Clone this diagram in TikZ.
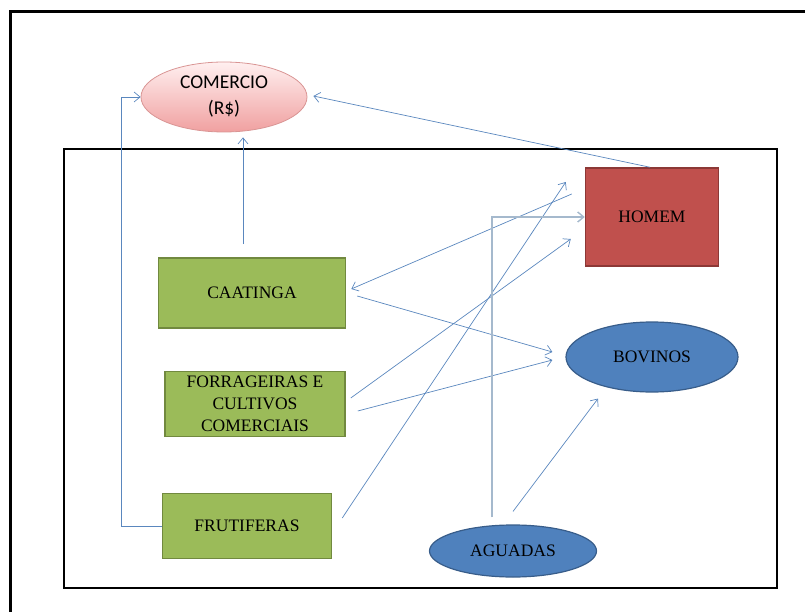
\documentclass[tikz,border=0pt]{standalone}
\usepackage{fontspec}
\setmainfont{Liberation Serif}
\newfontfamily\calibrifont{Carlito}
\usetikzlibrary{arrows.meta,shapes.geometric}
\definecolor{verde}{RGB}{155,187,89}
\definecolor{verdeborda}{RGB}{113,137,63}
\definecolor{vermelho}{RGB}{192,80,77}
\definecolor{vermelhoborda}{RGB}{140,56,54}
\definecolor{azul}{RGB}{79,129,189}
\definecolor{azulborda}{RGB}{56,93,138}
\definecolor{seta}{RGB}{90,135,190}
\definecolor{setaclara}{RGB}{165,185,205}
\begin{document}
\begin{tikzpicture}[x=1pt,y=-1pt,
  caixa/.style={draw=verdeborda,line width=1.5pt,fill=verde,align=center,
    font=\fontsize{17.5}{22}\selectfont,inner sep=0pt},
  elipse/.style={ellipse,draw=azulborda,line width=1.2pt,fill=azul,
    font=\fontsize{17.5}{22}\selectfont,inner sep=0pt},
  fluxo/.style={draw=seta,line width=0.7pt,-{Straight Barb[length=6pt,width=10pt]}}]
  \useasboundingbox (0,0) rectangle (805,612);
  % molduras
  \draw[line width=3pt] (805,12) -- (10,12) -- (10,612);
  \draw[line width=2.5pt] (64,149) rectangle (777,588);
  % nos
  \node[ellipse,draw={rgb,255:red,217;green,149;blue,148},line width=0.8pt,
    top color=red!6,bottom color={rgb,255:red,240;green,160;blue,160},
    minimum width=166pt,minimum height=70pt,inner sep=0pt,align=center,
    font=\calibrifont\fontsize{19.5}{26}\selectfont] (comercio) at (224,97) {COMERCIO\\(R\$)};
  \node[draw=vermelhoborda,line width=1.5pt,fill=vermelho,minimum width=133pt,
    minimum height=98pt,font=\fontsize{17.5}{22}\selectfont] (homem) at (652,217) {HOMEM};
  \node[caixa,minimum width=187pt,minimum height=70pt] (caatinga) at (252,293) {CAATINGA};
  \node[caixa,minimum width=180pt,minimum height=65pt] (forrageiras) at (255,404)
    {FORRAGEIRAS E\\CULTIVOS\\COMERCIAIS};
  \node[caixa,minimum width=169pt,minimum height=65pt] (frutiferas) at (247,526) {FRUTIFERAS};
  \node[elipse,minimum width=172pt,minimum height=70pt] (bovinos) at (652,357) {BOVINOS};
  \node[elipse,minimum width=167pt,minimum height=52pt] (aguadas) at (513,551) {AGUADAS};
  % setas
  \draw[fluxo] ([xshift=-13pt,yshift=23pt]homem.west) -- ([xshift=5pt,yshift=4pt]caatinga.east);
  \draw[fluxo] ([xshift=11pt,yshift=-3pt]caatinga.east) -- ([xshift=-13pt,yshift=5pt]bovinos.west);
  \draw[fluxo] ([xshift=5pt,yshift=6pt]forrageiras.east) -- ([xshift=-14pt,yshift=-22pt]homem.west);
  \draw[fluxo] ([xshift=12pt,yshift=-7pt]forrageiras.east) -- ([xshift=-13pt,yshift=-3pt]bovinos.west);
  \draw[fluxo] ([xshift=10pt,yshift=8pt]frutiferas.east) -- ([xshift=-19pt,yshift=35pt]homem.west);
  \draw[fluxo] ([yshift=13pt]aguadas.north) -- ([xshift=-54pt,yshift=-6pt]bovinos.south);
  \draw[fluxo] ([xshift=-2pt]homem.north) -- ([xshift=6pt,yshift=1pt]comercio.east);
  \draw[fluxo] ([xshift=-9pt,yshift=13pt]caatinga.north) -- ([xshift=19pt,yshift=-5pt]comercio.south);
  \draw[fluxo] (frutiferas.west) -- ++(-40,0) |- (comercio.west);
  \draw[fluxo,draw=setaclara,line width=1.4pt] ([xshift=-21pt,yshift=7pt]aguadas.north) |- (homem.west);
\end{tikzpicture}
\end{document}
